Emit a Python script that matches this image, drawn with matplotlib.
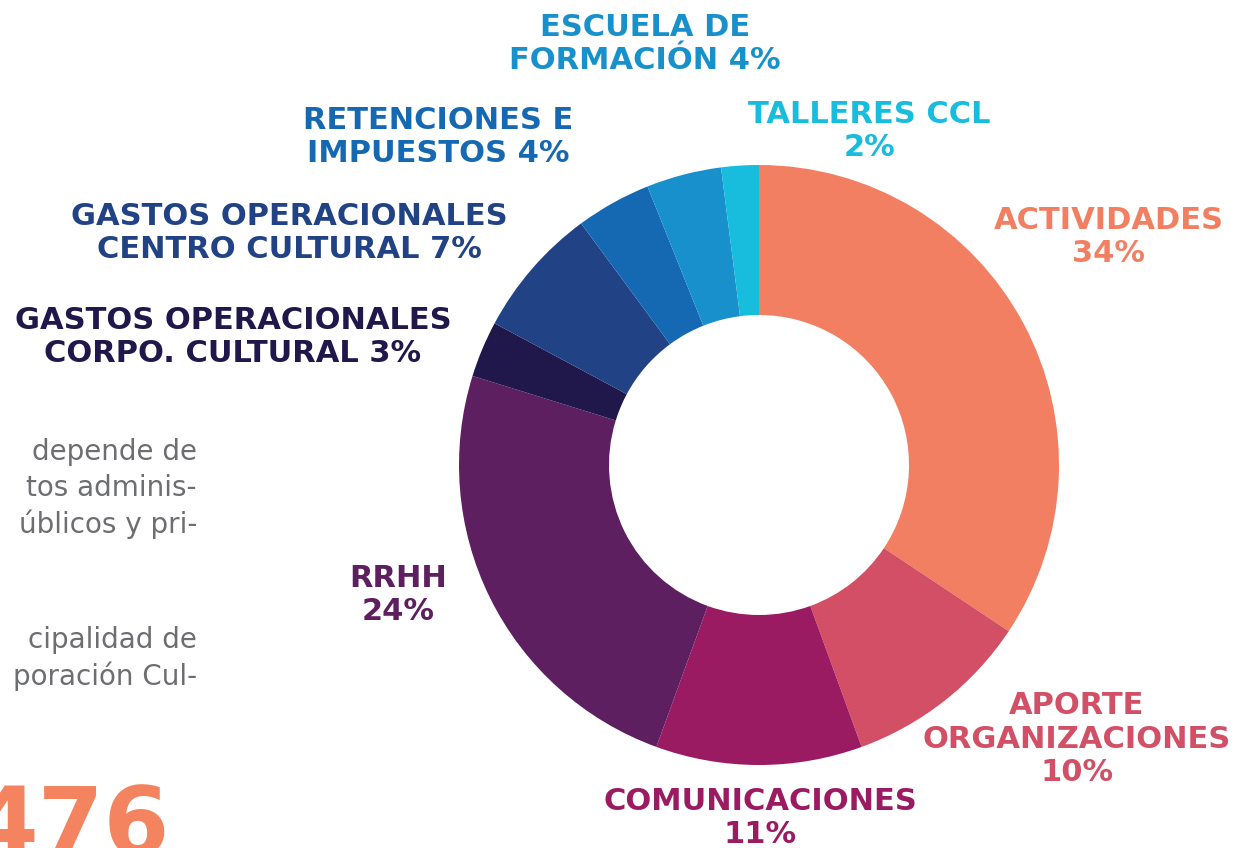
import matplotlib.pyplot as plt

# budget distribution (percent)
categorias = ["ACTIVIDADES", "APORTE\nORGANIZACIONES", "COMUNICACIONES", "RRHH",
              "GASTOS OPERACIONALES\nCORPO. CULTURAL", "GASTOS OPERACIONALES\nCENTRO CULTURAL",
              "RETENCIONES E\nIMPUESTOS", "ESCUELA DE\nFORMACIÓN", "TALLERES CCL"]
porcentajes = [34, 10, 11, 24, 3, 7, 4, 4, 2]
colores = ["#F27F61", "#D24F66", "#9B1B62", "#5D1F5F", "#20174A",
           "#214385", "#1569B3", "#1890CB", "#18BCDD"]

# label text layout: separator between name and percent, and label centre (px from top-left)
separador = ["\n", "\n", "\n", "\n", " ", " ", " ", " ", "\n"]
pos_etiquetas = [(1109, 237), (1077, 739), (760, 818), (398, 595), (233, 337),
                 (289, 233), (438, 137), (645, 44), (869, 131)]

parrafo_1 = ["depende de", "tos adminis-", "úblicos y pri-"]
parrafo_2 = ["cipalidad de", "poración Cul-"]
cifra = "476"

W, H = 1238, 848
fig = plt.figure(figsize=(W / 100, H / 100), dpi=100)
ax = fig.add_axes([0, 0, 1, 1])

ax.pie(porcentajes, colors=colores, startangle=90, counterclock=False,
       center=(759, H - 465), radius=300, frame=True,
       wedgeprops=dict(width=150, linewidth=0))
ax.set_xlim(0, W)
ax.set_ylim(0, H)
ax.set_aspect("equal")
ax.axis("off")

for cat, sep, pct, col, (x, y) in zip(categorias, separador, porcentajes, colores, pos_etiquetas):
    ax.text(x, H - y, f"{cat}{sep}{pct}%", color=col, ha="center", va="center",
            fontsize=22, fontweight="bold", family="DejaVu Sans", linespacing=1.18)

# body text cut off at the left margin
for i, linea in enumerate(parrafo_1):
    ax.text(197, H - (452 + 36 * i), linea, ha="right", va="center",
            fontsize=20, color="#6D6E71", family="DejaVu Sans")
for i, linea in enumerate(parrafo_2):
    ax.text(197, H - (640 + 36 * i), linea, ha="right", va="center",
            fontsize=20, color="#6D6E71", family="DejaVu Sans")

ax.text(170, H - 783, cifra, ha="right", va="top", fontsize=68,
        fontweight="bold", color="#F4845F", family="DejaVu Sans")

fig.savefig("out.png", dpi=100)
